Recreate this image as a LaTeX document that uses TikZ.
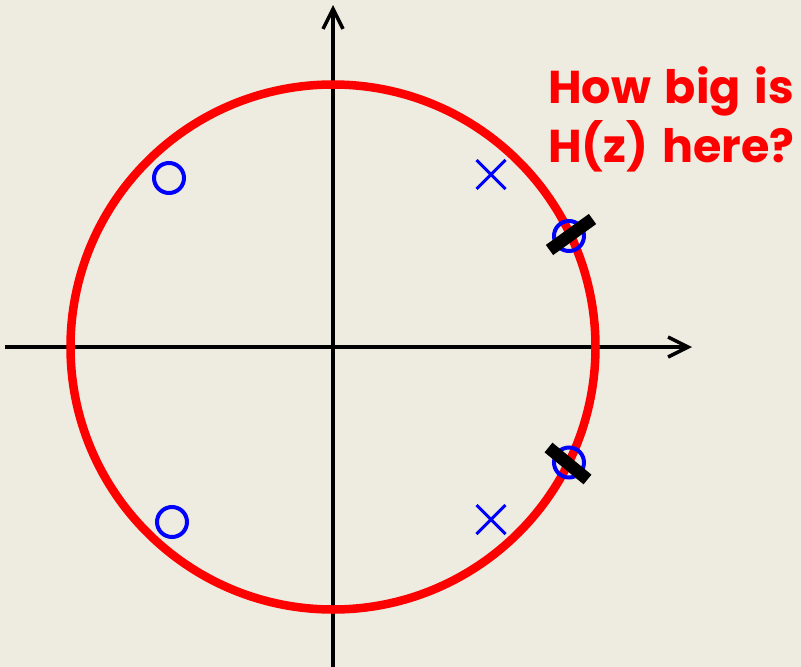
\documentclass[tikz,border=0pt]{standalone}
\usepackage{fontspec}
\usetikzlibrary{arrows.meta,shapes.misc}
\definecolor{bg}{HTML}{EEEBE0}
\definecolor{zred}{HTML}{FF0000}
\definecolor{zblue}{HTML}{0000FF}
\newfontfamily\labelfont{Poppins}
\newcommand\myqfont{\labelfont\bfseries\fontsize{46}{46}\selectfont\spaceskip=0.3em\relax}
\tikzset{
  axisline/.style={line width=3.5pt, draw=black, -{Straight Barb[length=20pt,width=20pt,line width=3.5pt]}},
  zeromark/.style={circle, draw=zblue, line width=4pt, minimum size=30pt, inner sep=0pt},
  polemark/.style={cross out, draw=zblue, line width=3pt, minimum size=26pt, inner sep=0pt},
  barmark/.style={line width=12.5pt, draw=black},
  unitcircle/.style={draw=zred, line width=8.5pt},
  question/.style={text=zred, font=\myqfont, anchor=base west, inner sep=0pt}
}
\begin{document}
\begin{tikzpicture}[x=1pt,y=-1pt]
\fill[bg] (0,0) rectangle (801,667);
\useasboundingbox (0,0) rectangle (801,667);
% axes
\coordinate (xl) at (5,347);
\coordinate (xr) at (692,347);
\coordinate (yb) at (333,667);
\coordinate (yt) at (333,5);
\draw[axisline] (xl) -- (xr);
\draw[axisline] (yb) -- (yt);
% unit circle
\coordinate (o) at (333,347);
\draw[unitcircle] (o) circle[radius=262.5];
% zeros
\node[zeromark] (z1) at (169,178) {};
\node[zeromark] (z2) at (172,522) {};
\node[zeromark] (z3) at (569,236) {};
\node[zeromark] (z4) at (569,462.5) {};
% poles
\node[polemark] (p1) at (491,174.5) {};
\node[polemark] (p2) at (491,519.5) {};
% bars
\coordinate (b1a) at (549.5,250);
\coordinate (b1b) at (592.5,219);
\coordinate (b2a) at (548.5,447.5);
\coordinate (b2b) at (587.5,479.5);
\draw[barmark] (b1a) -- (b1b);
\draw[barmark] (b2a) -- (b2b);
% text
\node[question] (t1) at (548,103) {How big is};
\node[question] (t2) at (548,162) {H(z) here?};
\end{tikzpicture}
\end{document}
